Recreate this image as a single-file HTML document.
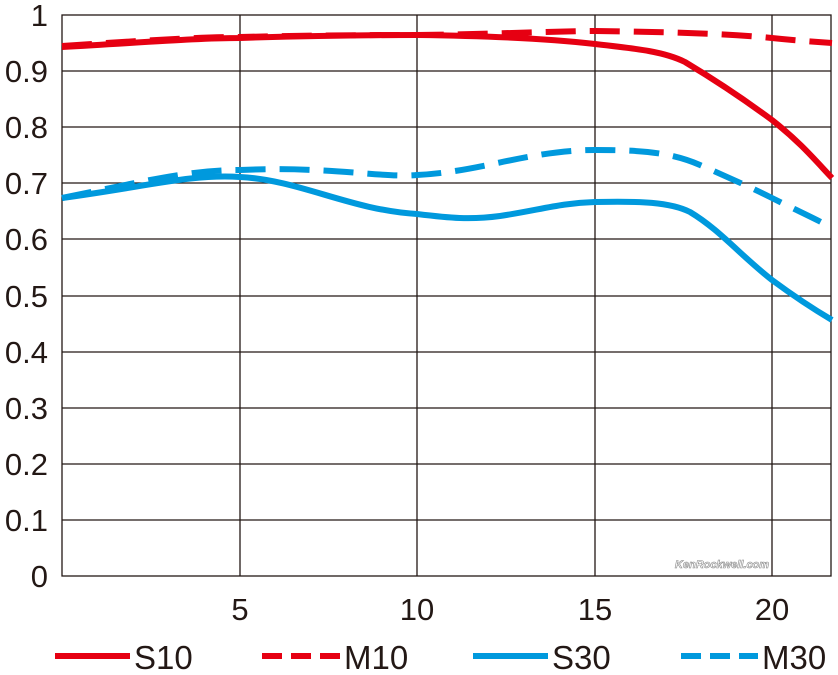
<!DOCTYPE html>
<html><head><meta charset="utf-8"><style>
body{margin:0;background:#fff}
svg text{font-family:"Liberation Sans",sans-serif;fill:#231815}
</style></head><body>
<svg width="838" height="670" viewBox="0 0 838 670" xmlns="http://www.w3.org/2000/svg">
<g stroke="#231815" stroke-width="1.3" fill="none">
<rect x="62" y="15" width="769" height="561"/>
<line x1="62" y1="71" x2="831" y2="71"/><line x1="62" y1="127" x2="831" y2="127"/>
<line x1="62" y1="183" x2="831" y2="183"/><line x1="62" y1="239" x2="831" y2="239"/>
<line x1="62" y1="296" x2="831" y2="296"/><line x1="62" y1="352" x2="831" y2="352"/>
<line x1="62" y1="408" x2="831" y2="408"/><line x1="62" y1="464" x2="831" y2="464"/>
<line x1="62" y1="520" x2="831" y2="520"/>
<line x1="240" y1="15" x2="240" y2="576"/><line x1="417" y1="15" x2="417" y2="576"/>
<line x1="595" y1="15" x2="595" y2="576"/><line x1="772" y1="15" x2="772" y2="576"/>
</g>
<g font-size="31" text-anchor="end">
<text x="48" y="26">1</text><text x="48" y="82">0.9</text><text x="48" y="138">0.8</text>
<text x="48" y="194">0.7</text><text x="48" y="250">0.6</text><text x="48" y="307">0.5</text>
<text x="48" y="363">0.4</text><text x="48" y="419">0.3</text><text x="48" y="475">0.2</text>
<text x="48" y="531">0.1</text><text x="48" y="587">0</text>
</g>
<g font-size="31" text-anchor="middle">
<text x="240" y="620">5</text><text x="417" y="620">10</text><text x="595" y="620">15</text><text x="772" y="620">20</text>
</g>
<text x="722" y="568" font-size="11" font-style="italic" font-weight="bold" text-anchor="middle" style="fill:#fff;stroke:#888;stroke-width:0.6">KenRockwell.com</text>
<g fill="none" stroke-width="6">
<path stroke="#0099dd" d="M62,198 C150,186 190,174 240,177 C300,180 350,210 417,214 C450,218 470,220 500,216 C540,210 560,203 595,202 C640,201 670,202 690,212 C720,230 740,255 772,280 C795,297 815,310 832,320"/>
<path stroke="#0099dd" stroke-dasharray="30,14" d="M62,198 C150,180 190,170 240,170 C330,166 380,178 417,175 C480,172 530,150 595,150 C640,150 670,152 700,165 C730,178 752,188 772,198 C800,212 818,220 832,228"/>
<path stroke="#e60012" d="M62,47 C150,42 200,38 240,38 C330,35 380,35 417,35 C500,36 560,40 595,44 C640,49 665,52 685,62 C715,80 745,100 772,120 C800,142 815,160 832,178"/>
<path stroke="#e60012" stroke-dasharray="30,14" d="M62,46 C150,40 200,37 240,37 C330,35 380,35 417,35 C500,34 560,31 595,31 C680,32 730,34 772,38 C800,41 820,42 832,43"/>
</g>
<g stroke-width="6">
<line x1="55" y1="656" x2="130" y2="656" stroke="#e60012"/>
<line x1="262" y1="656" x2="340" y2="656" stroke="#e60012" stroke-dasharray="20,9"/>
<line x1="473" y1="656" x2="548" y2="656" stroke="#0099dd"/>
<line x1="681" y1="656" x2="758" y2="656" stroke="#0099dd" stroke-dasharray="20,9"/>
</g>
<g font-size="33">
<text x="134" y="669">S10</text><text x="344" y="669">M10</text>
<text x="552" y="669">S30</text><text x="762" y="669">M30</text>
</g>
</svg>
</body></html>
